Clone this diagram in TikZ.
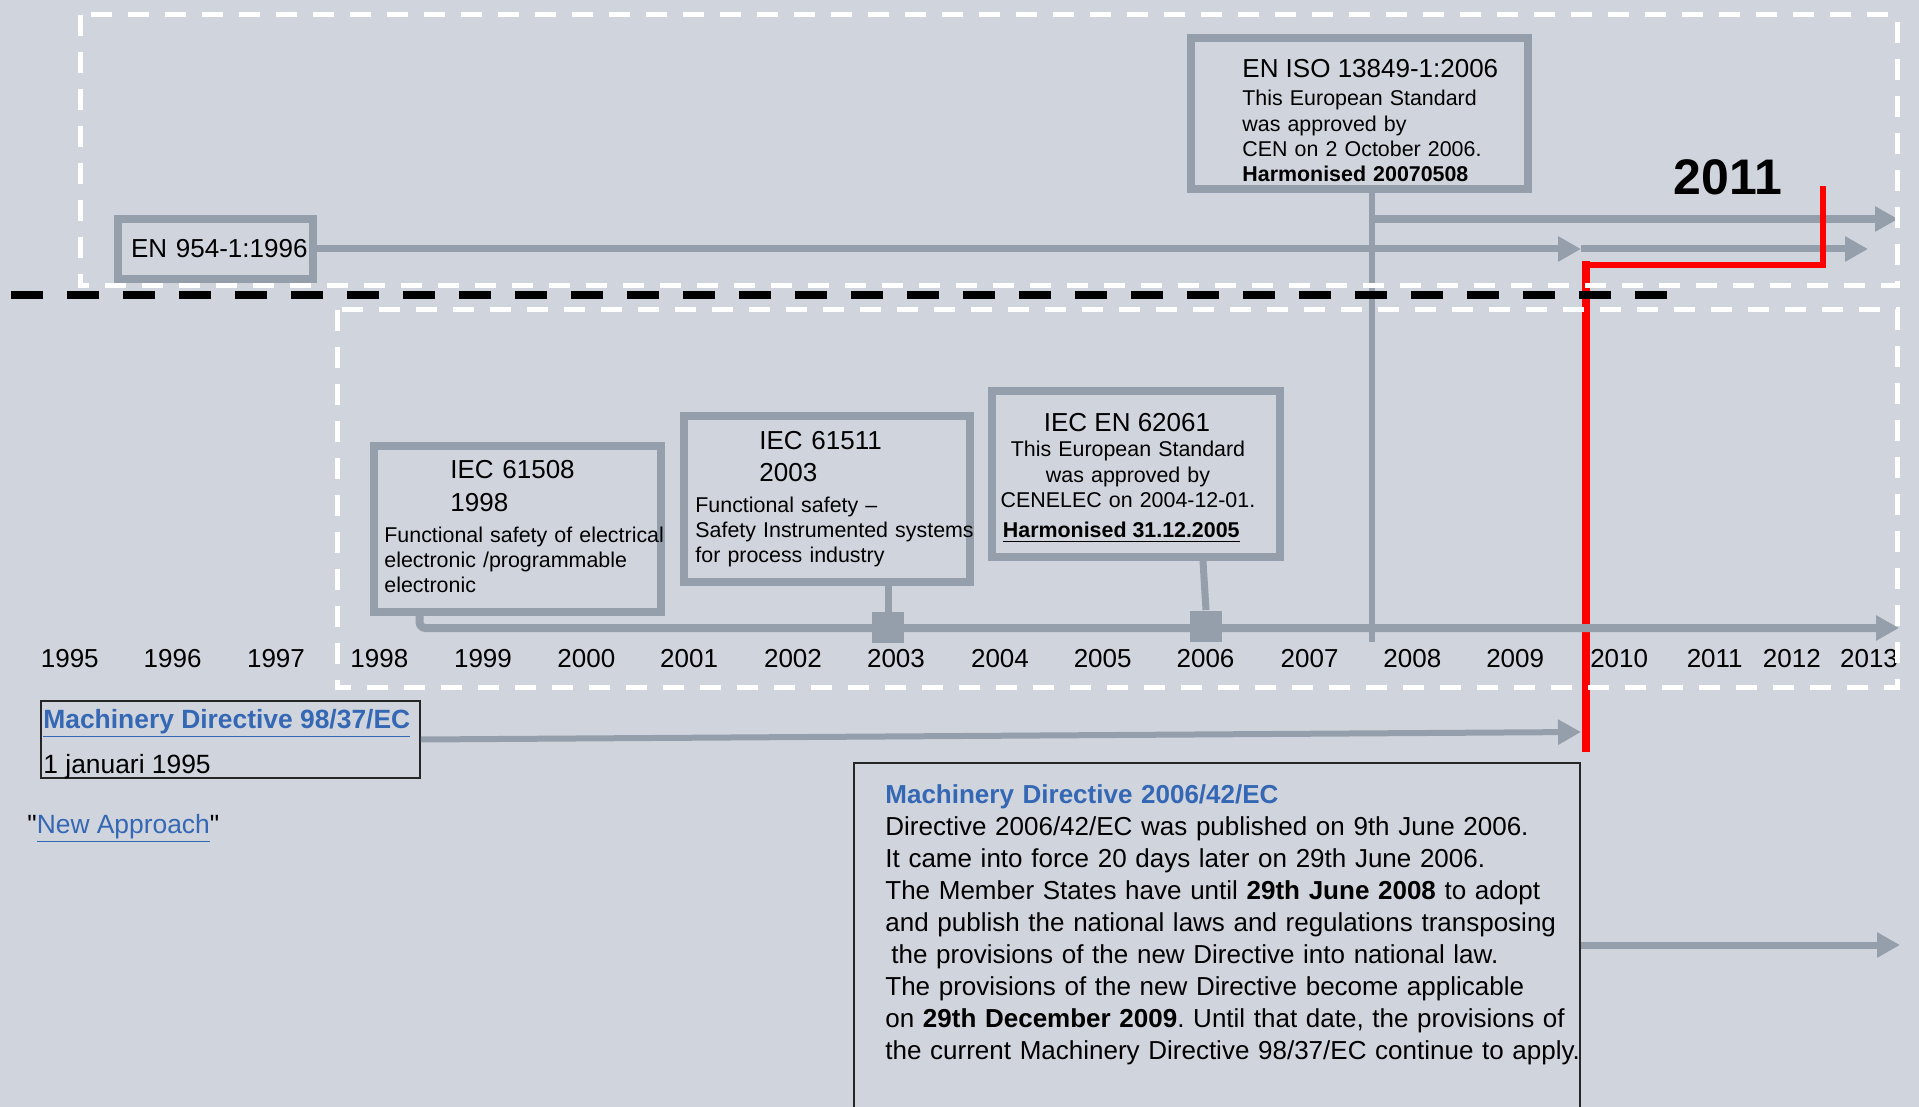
\documentclass[tikz,border=0pt]{standalone}
\usepackage{fontspec}
\setmainfont{Liberation Sans}[Ligatures=TeXOff]
\usetikzlibrary{arrows.meta}

\definecolor{bgcol}{RGB}{208,212,221}
\definecolor{linegray}{RGB}{149,159,171}
\definecolor{linkblue}{RGB}{52,103,180}

\newcommand{\titlesz}{\fontsize{13}{16.5}\selectfont}
\newcommand{\bodysz}{\fontsize{10.7}{12.6}\selectfont}
\newcommand{\notesz}{\fontsize{13.2}{16}\selectfont}
\frenchspacing

\begin{document}
\begin{tikzpicture}[x=0.5pt,y=-0.5pt,
  gbox/.style={draw=linegray,line width=4pt,inner sep=0pt},
  thinbox/.style={draw=black!85,line width=0.8pt,inner sep=0pt},
  gline/.style={draw=linegray,line width=3.5pt},
  garrow/.style={gline,-{Triangle[length=11.5pt,width=12pt]}},
  junction/.style={fill=linegray,inner sep=0pt,minimum width=16pt,minimum height=15.5pt},
  redline/.style={draw=red,line cap=rect},
  whitedash/.style={draw=white,line width=2.5pt,dash pattern=on 10.5pt off 8pt},
  blackdash/.style={draw=black,line width=4pt,dash pattern=on 16pt off 12pt},
  txt/.style={anchor=base west,inner sep=0pt},
  yearlbl/.style={anchor=base,inner sep=0pt,font=\titlesz}]
\useasboundingbox (0,0) rectangle (1919,1107);
\fill[bgcol] (0,0) rectangle (1919,1107);

% standards
\node[gbox,minimum width=97.5pt,minimum height=30pt,text width=92pt,align=right,font=\titlesz] (en954) at (215.5,249) {EN 954-1:1996};
\node[gbox,minimum width=168.5pt,minimum height=75.5pt] (iso) at (1359.5,113.5) {};
\node[gbox,minimum width=143.5pt,minimum height=83pt] (iec08) at (517.5,529) {};
\node[gbox,minimum width=143pt,minimum height=83pt] (iec11) at (827,499) {};
\node[gbox,minimum width=144pt,minimum height=83pt] (iec61) at (1136,474) {};

\node[txt,font=\titlesz] (isotitle) at (1242,78) {EN ISO 13849-1:2006};
\node[txt,font=\bodysz,text width=140pt,align=left] (isobody) at (1242,106)
  {This European Standard\\was approved by\\CEN on 2 October 2006.\\\textbf{Harmonised 20070508}};
\node[txt,font=\titlesz,text width=100pt,align=left] (iec08title) at (450,479) {IEC 61508\\1998};
\node[txt,font=\bodysz,text width=150pt,align=left] (iec08body) at (384,542)
  {Functional safety of electrical\\electronic /programmable\\electronic};
\node[txt,font=\fontsize{13}{16}\selectfont,text width=100pt,align=left] (iec11title) at (759,450) {IEC 61511\\2003};
\node[txt,font=\bodysz,text width=150pt,align=left] (iec11body) at (695,512)
  {Functional safety –\\Safety Instrumented systems\\for process industry};
\node[anchor=base,inner sep=0pt,font=\titlesz] (iec61title) at (1127,431) {IEC EN 62061};
\node[anchor=base,inner sep=0pt,font=\bodysz,text width=140pt,align=center] (iec61body) at (1128,457)
  {This European Standard\\was approved by\\CENELEC on 2004-12-01.};
\node[txt,font=\bodysz\bfseries] (iec61harm) at (1002.5,538) {\underline{Harmonised 31.12.2005}};
\node[txt,font=\fontsize{25}{30}\selectfont\bfseries] (yr2011) at (1673,195) {2011};

\foreach \yr/\xx in {1995/69.8,1996/172.6,1997/276,1998/379.4,1999/483,2000/586.3,2001/689.1,2002/793,2003/896,2004/1000,2005/1102.7,2006/1205.5,2007/1309.6,2008/1412.4,2009/1515.2,2010/1619.2,2011/1714.7,2012/1791.8,2013/1869}
  \node[yearlbl] (y\yr) at (\xx,667) {\yr};

% directives
\node[thinbox,minimum width=189.5pt,minimum height=38.5pt] (md98) at (230.5,739.5) {};
\node[txt,font=\notesz\bfseries,text=linkblue] (md98title) at (43,728) {\underline{Machinery Directive 98/37/EC}};
\node[txt,font=\notesz] (md98date) at (43,773) {1 januari 1995};
\node[txt,font=\notesz] (newapp) at (27,833) {"\textcolor{linkblue}{\underline{New Approach}}"};
\node[thinbox,minimum width=363pt,minimum height=178.5pt] (md06) at (1217,941.5) {};
\node[txt,font=\fontsize{13}{16}\selectfont,text width=360pt,align=left] (md06body) at (885,803)
  {\textcolor{linkblue}{\textbf{Machinery Directive 2006/42/EC}}\\
   Directive 2006/42/EC was published on 9th June 2006.\\
   It came into force 20 days later on 29th June 2006.\\
   The Member States have until \textbf{29th June 2008} to adopt\\
   and publish the national laws and regulations transposing\\
   \hspace*{3pt}the provisions of the new Directive into national law.\\
   The provisions of the new Directive become applicable\\
   on \textbf{29th December 2009}. Until that date, the provisions of\\
   the current Machinery Directive 98/37/EC continue to apply.};

% connectors
\coordinate (en954mid) at (1581,249);
\coordinate (en954end) at (1868,249);
\coordinate (isofoot) at (1372,642);
\coordinate (isojoin) at (1372,219);
\coordinate (isoend) at (1898,219);
\draw[garrow] (en954.east) -- (en954mid);
\draw[garrow] (en954mid) -- (en954end);
\draw[gline,line width=3pt] (iso.south -| isofoot) -- (isofoot);
\draw[garrow,line width=4pt] (isojoin) -- (isoend);

\coordinate (redtop) at (1823,189);
\coordinate (redknee) at (1586,265);
\coordinate (redfoot) at (1586,748);
\draw[redline,line width=2.75pt] (redtop) |- (redknee);
\draw[redline,line width=4pt] (redknee) -- (redfoot);

\coordinate (axisstart) at (419.5,628);
\coordinate (axisend) at (1899,628);
\draw[garrow,line width=4pt,rounded corners=3pt] (iec08.south -| axisstart) |- (axisend);
\node[junction] (sq11) at (888,627.5) {};
\node[junction] (sq61) at (1206,626) {};
\coordinate (leg61) at (1203,0);
\draw[gline] (iec11.south -| sq11) -- (sq11.north);
\draw[gline] (iec61.south -| leg61) -- (sq61.north);

\coordinate (md98end) at (1581,732);
\draw[garrow,line width=3pt] (md98.east) -- (md98end);
\coordinate (md06end) at (1900,945);
\draw[garrow] (md06.east |- md06end) -- (md06end);

\draw[whitedash] (80,15) rectangle (1897,286);
\draw[whitedash] (337,310) rectangle (1897,687);
\draw[blackdash] (11,295) -- (1667,295);
\end{tikzpicture}
\end{document}
